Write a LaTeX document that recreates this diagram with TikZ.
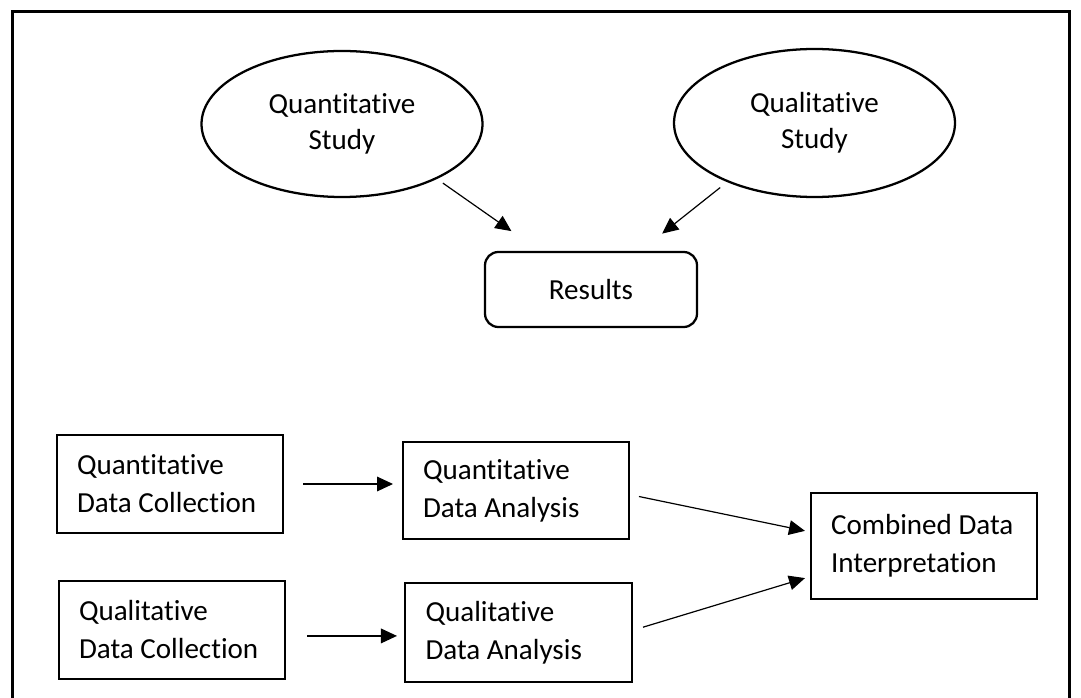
\documentclass[tikz,border=0pt]{standalone}
\usepackage{fontspec}
\setmainfont{Carlito}[Ligatures=NoCommon]
\usetikzlibrary{arrows.meta,shapes.geometric}

\begin{document}
\begin{tikzpicture}[x=0.75pt,y=-0.75pt,
  every node/.style={font=\fontsize{21.8pt}{28.5pt}\selectfont, outer sep=0pt},
  frame/.style={draw, line width=2.25pt},
  study/.style={draw, ellipse, line width=1.7pt, align=center, inner sep=0pt,
    minimum width=210.75pt, minimum height=109.5pt,
    font=\fontsize{21.8pt}{27pt}\selectfont},
  outcome/.style={draw, rectangle, rounded corners=10pt, line width=1.7pt,
    minimum width=159pt, minimum height=56.25pt},
  stagebox/.style={draw, rectangle, line width=1.5pt, align=flush left,
    inner xsep=15pt, inner ysep=0pt, text width=139.5pt},
  arr/.style={-{Triangle[length=12pt,width=11pt]}, line width=0.9pt}
]
\useasboundingbox (0,0) rectangle (1081,698);

% outer frame, open at the bottom
\draw[frame] (12,712) -- (12,12) -- (1069.5,12) -- (1069.5,712);

% top part: the two studies feed the results
\node[study] (q1) at (342,124) {Quantitative\\Study};
\node[study, minimum height=111pt] (q2) at (814.5,123) {Qualitative\\Study};
\node[outcome] (res) at (591,289.5) {Results};

\draw[arr, shorten <=6.3pt, shorten >=27.3pt] (q1.-30) -- (res.143.3);
\draw[arr, shorten <=7.5pt, shorten >=22.2pt] (q2.214.7) -- (res.38.3);

% bottom part: collection, analysis and interpretation
\node[stagebox, minimum height=73.5pt] (qdc) at (170,484) {Quantitative\\Data Collection};
\node[stagebox, minimum height=73.5pt] (qldc) at (172,630) {Qualitative\\Data Collection};
\node[stagebox, minimum height=72.75pt] (qnda) at (516,490.5) {Quantitative\\Data Analysis};
\node[stagebox, minimum height=74.25pt, inner xsep=15.4pt] (qlda) at (518.5,632.5) {Qualitative\\Data Analysis};
\node[stagebox, minimum height=79.5pt] (cdi) at (924,546) {Combined Data\\Interpretation};

\draw[arr, shorten <=15pt, shorten >=7.5pt] (qdc.east) -- (qdc.east -| qnda.west);
\draw[arr, shorten <=16.5pt, shorten >=6pt] (qldc.-3) -- (qldc.-3 -| qlda.west);
\draw[arr, shorten <=7.65pt, shorten >=4.6pt] (qnda.-2.2) -- (cdi.173.6);
\draw[arr, shorten <=8.6pt, shorten >=4.7pt] (qlda.1.1) -- (cdi.-165.6);
\end{tikzpicture}
\end{document}
